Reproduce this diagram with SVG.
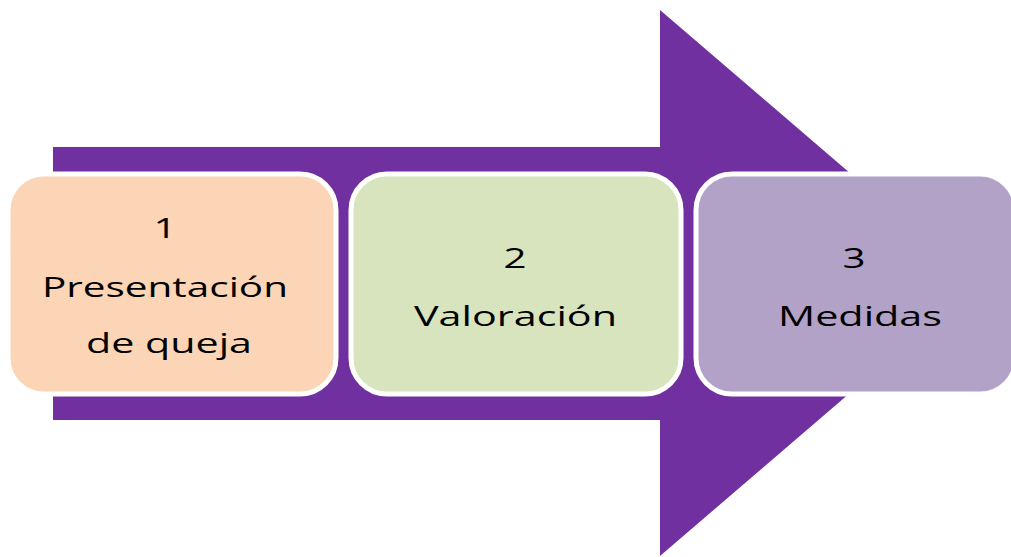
<svg xmlns="http://www.w3.org/2000/svg" width="1011" height="557" viewBox="0 0 1011 557">
<style>
.box{stroke:#FFFFFF;stroke-width:5}
.t{font-family:"Open Sans","Noto Sans","DejaVu Sans",sans-serif;font-size:28px;fill:#000;text-anchor:middle}
</style>
<rect width="1011" height="557" fill="#FFFFFF"/>
<g id="connectors">
<polygon id="arrow" points="53,147 660,147 660,10 978,283 660,556 660,420 53,420" fill="#7030A0"/>
</g>
<g id="node1">
<rect class="box" x="8" y="174" width="328" height="220" rx="36" ry="36" fill="#FBD5B5"/>
<text class="t" x="165" y="238" textLength="23" lengthAdjust="spacingAndGlyphs">1</text>
<text class="t" x="165" y="297" textLength="246" lengthAdjust="spacingAndGlyphs">Presentación</text>
<text class="t" x="169" y="353" textLength="166" lengthAdjust="spacingAndGlyphs">de queja</text>
</g>
<g id="node2">
<rect class="box" x="351" y="174" width="330" height="220" rx="36" ry="36" fill="#D7E4BD"/>
<text class="t" x="515" y="268" textLength="23" lengthAdjust="spacingAndGlyphs">2</text>
<text class="t" x="515.5" y="326" textLength="203" lengthAdjust="spacingAndGlyphs">Valoración</text>
</g>
<g id="node3">
<rect class="box" x="696" y="174" width="320" height="220" rx="36" ry="36" fill="#B3A2C7"/>
<text class="t" x="854" y="268" textLength="23" lengthAdjust="spacingAndGlyphs">3</text>
<text class="t" x="860" y="326" textLength="164" lengthAdjust="spacingAndGlyphs">Medidas</text>
</g>
</svg>
